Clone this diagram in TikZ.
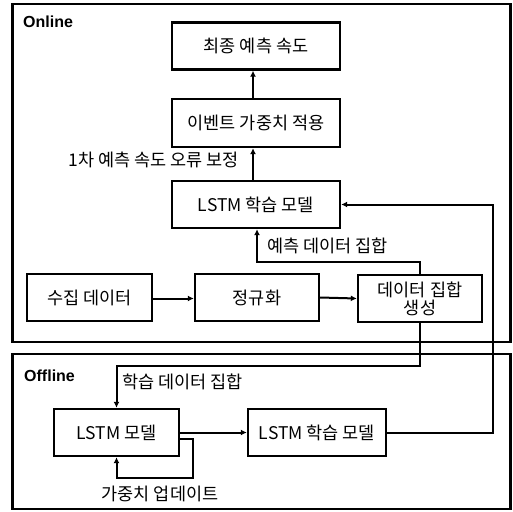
\documentclass[tikz,border=0pt]{standalone}
\usepackage{fontspec}
\setmainfont{Noto Sans CJK KR}
\newfontfamily\latinbold{Liberation Sans}
\usetikzlibrary{arrows.meta}
\begin{document}
\begin{tikzpicture}[x=1pt,y=-1pt,
  box/.style={draw,line width=2.4pt,minimum height=47pt,inner sep=0pt,font=\fontsize{17.5}{19}\selectfont,align=center},
  frame/.style={draw,line width=2.4pt},
  arr/.style={line width=2pt,-{Latex[length=6pt,width=6pt]}},
  lbl/.style={font=\fontsize{17.5}{19}\selectfont,inner sep=0pt},
  ttl/.style={font=\latinbold\bfseries\fontsize{16}{18}\selectfont,inner sep=0pt}]
\useasboundingbox (0,0) rectangle (513,511);
\draw[frame] (12.5,4) rectangle (510.5,342);
\draw[frame] (12.5,354) rectangle (510.5,509);
\node[ttl,anchor=west] (on) at (23,22) {Online};
\node[ttl,anchor=west] (off) at (24,376) {Offline};

\node[box,minimum width=168pt] (final) at (256,46) {최종 예측 속도};
\node[box,minimum width=168pt,minimum height=48pt] (event) at (256,123) {이벤트 가중치 적용};
\node[box,minimum width=168pt] (lstmon) at (256,204.5) {LSTM 학습 모델};
\node[box,minimum width=125pt] (collect) at (89.5,297.5) {수집 데이터};
\node[box,minimum width=124pt] (norm) at (257,297.5) {정규화};
\node[box,minimum width=124pt,font=\fontsize{17.5}{18}\selectfont] (dataset) at (420,298.5) {데이터 집합\\생성};
\node[box,minimum width=125pt] (lstmoff) at (116.5,432.5) {LSTM 모델};
\node[box,minimum width=138pt] (lstmtrain) at (317,432.5) {LSTM 학습 모델};

\coordinate (c1) at (420,262);
\coordinate (c2) at (420,366);
\coordinate (c3) at (493,432.5);
\coordinate (c4) at (193,478);

\draw[arr] ([xshift=-3pt]event.north) -- ([xshift=-3pt]final.south);
\draw[arr] ([xshift=-3pt]lstmon.north) -- ([xshift=-3pt]event.south);
\draw[arr] (dataset.north) |- ([xshift=1pt]lstmon.south |- c1) -- ([xshift=1pt]lstmon.south);
\draw[arr] ([yshift=-1pt]collect.east) -- ([yshift=-1pt]norm.west);
\draw[arr] (norm.east) -- (dataset.west);
\draw[arr] (dataset.south) |- (lstmoff.north |- c2) -- (lstmoff.north);
\draw[arr] (lstmoff.east) -- (lstmtrain.west);
\draw[arr] ([yshift=-6pt]lstmoff.east) -| (c4) -| (lstmoff.south);
\draw[arr] (lstmtrain.east) -- (c3) |- (lstmon.east);

\node[lbl,anchor=east] (l1) at (239,160) {1차 예측 속도 오류 보정};
\node[lbl,anchor=west] (l2) at (267,246) {예측 데이터 집합};
\node[lbl,anchor=west] (l3) at (122,382) {학습 데이터 집합};
\node[lbl] (l4) at (160,494) {가중치 업데이트};
\end{tikzpicture}
\end{document}
